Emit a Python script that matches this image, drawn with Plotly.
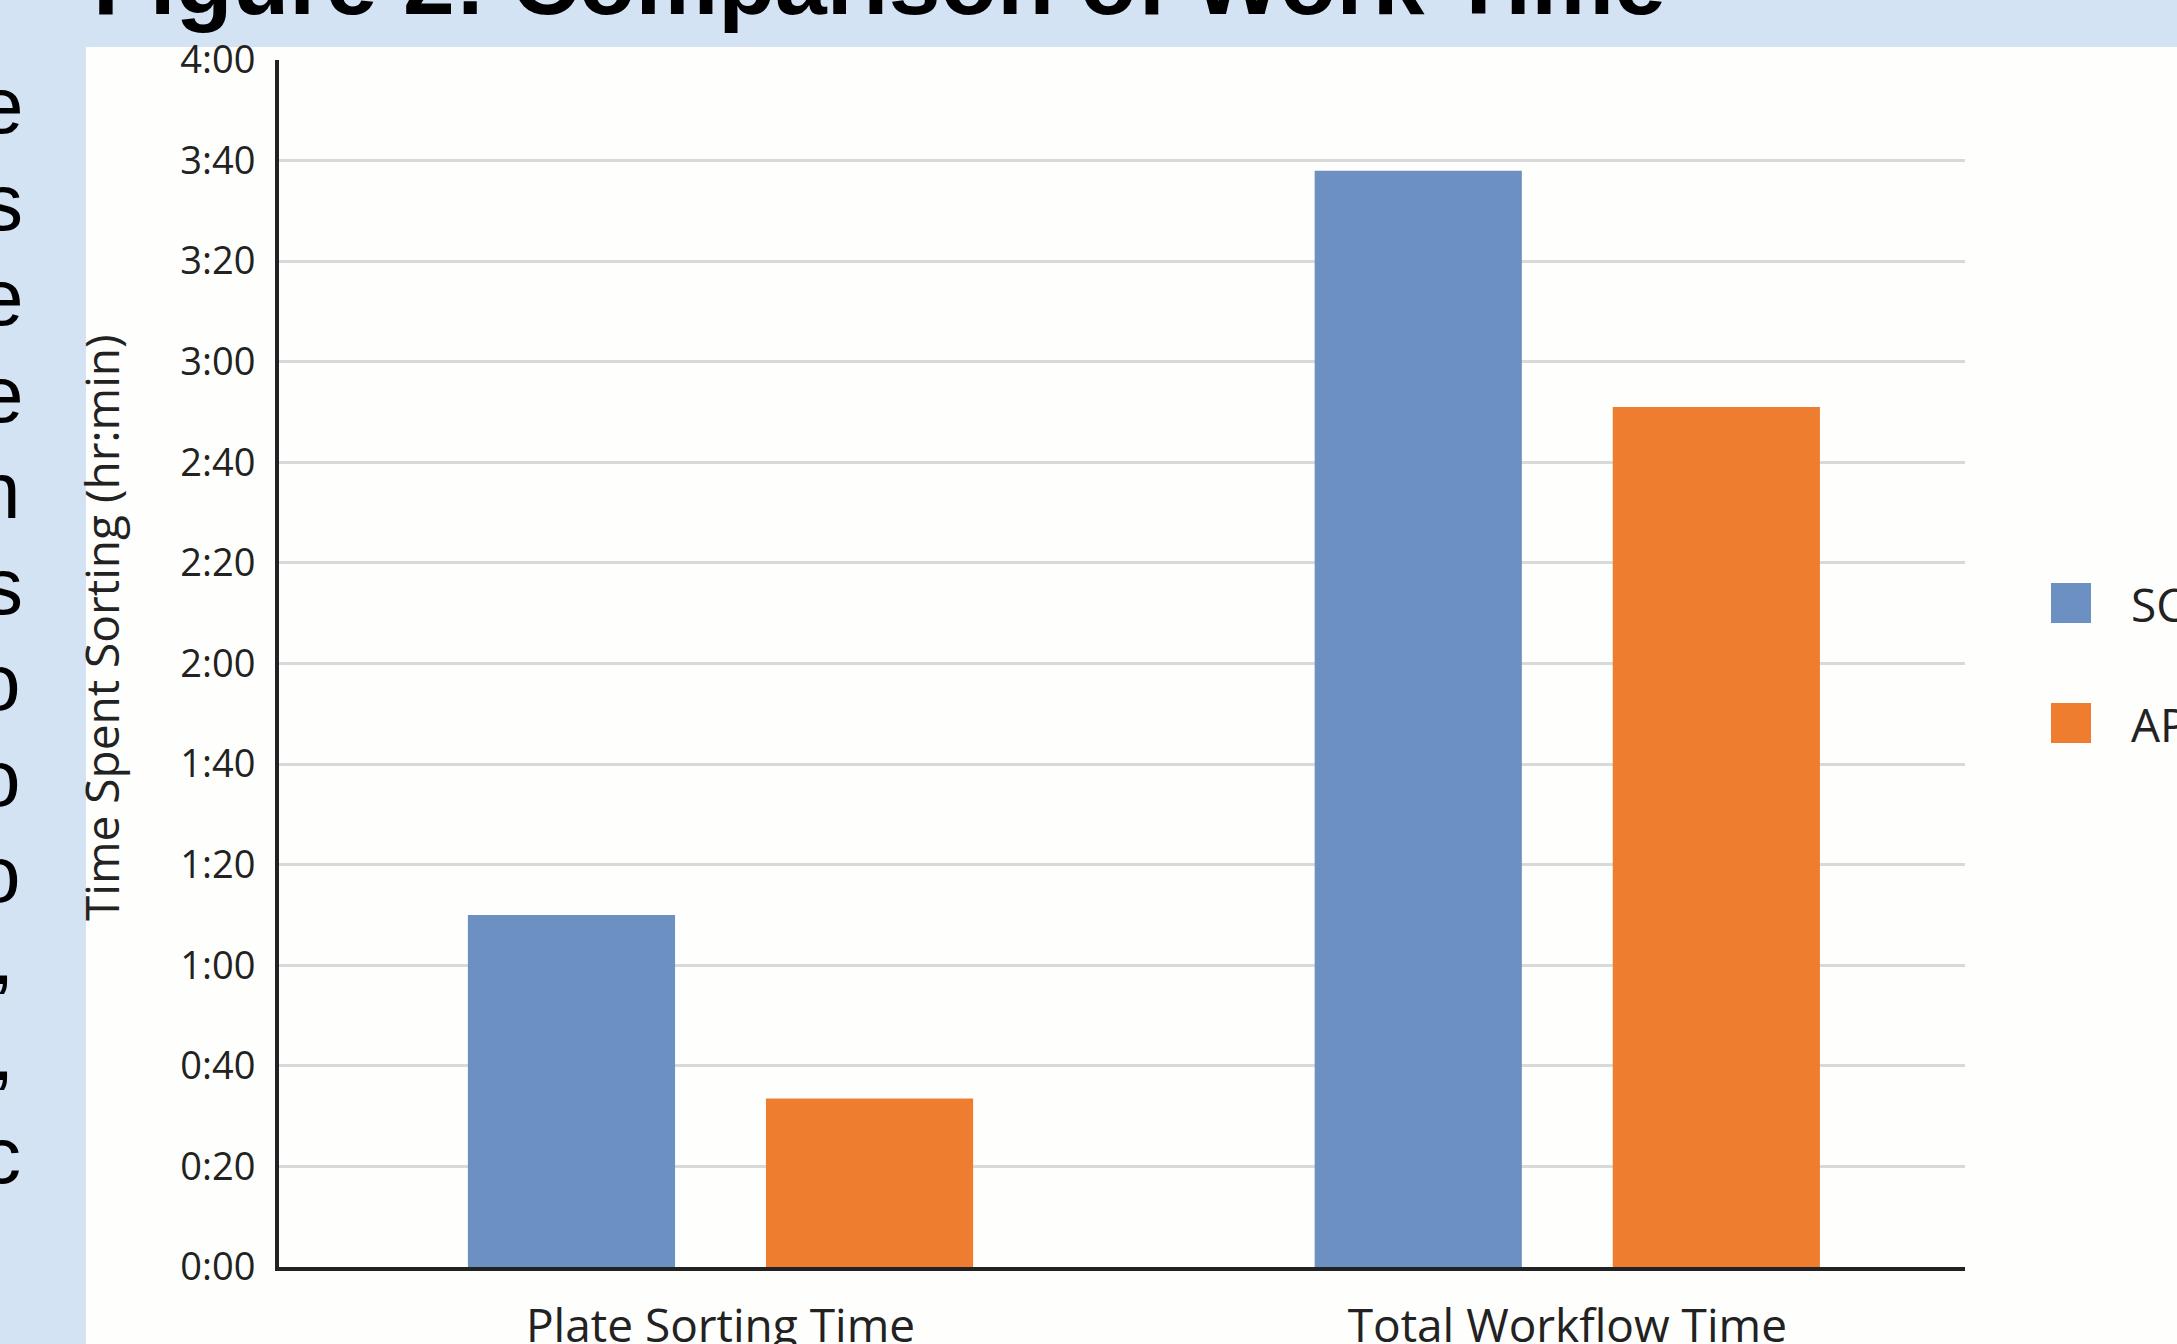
import plotly.graph_objects as go

# ---------------- data ----------------
categories = ["Plate Sorting Time", "Total Workflow Time"]
series_names = ["SC", "AP"]
sc_minutes = [70, 218]
ap_minutes = [33.5, 171]
tick_minutes = [0, 20, 40, 60, 80, 100, 120, 140, 160, 180, 200, 220, 240]
tick_labels = ["0:00", "0:20", "0:40", "1:00", "1:20", "1:40", "2:00",
               "2:20", "2:40", "3:00", "3:20", "3:40", "4:00"]
title_text = "Figure 2: Comparison of Work Time"
y_title = "Time Spent Sorting (hr:min)"
side_fragments = ["e", "s", "e", "e", "n", "s", "o", "o", "o", ",", ",", "c"]

# ---------------- styling / layout ----------------
W, H = 2177, 1344
L, R, T, B = 279, 1965, 60, 1267
pw, ph = R - L, B - T
BLUE = "#6C90C1"
ORANGE = "#EE7D30"
POSTER_BG = "#D3E3F3"
PANEL = "#FEFEFC"
INK = "#222222"
FONT = "Open Sans"


def px(x):
    return (x - L) / pw


def py(y):
    return (B - y) / ph


cat_center0, cat_unit = 720.5, 846.8

fig = go.Figure()
fig.add_trace(go.Bar(x=categories, y=sc_minutes, name=series_names[0],
                     marker=dict(color=BLUE, line=dict(width=0)), showlegend=False))
fig.add_trace(go.Bar(x=categories, y=ap_minutes, name=series_names[1],
                     marker=dict(color=ORANGE, line=dict(width=0)), showlegend=False))

shapes = [
    # white chart panel on the poster
    dict(type="rect", xref="paper", yref="paper", layer="below",
         x0=px(86), x1=px(2300), y0=py(1500), y1=py(47),
         fillcolor=PANEL, line=dict(width=0)),
]
annotations = []

# legend (drawn manually so the swatches can be large)
legend_rows = [603, 723]
for name, color, yc in zip(series_names, [BLUE, ORANGE], legend_rows):
    shapes.append(dict(type="rect", xref="paper", yref="paper",
                       x0=px(2051), x1=px(2091), y0=py(yc + 20), y1=py(yc - 20),
                       fillcolor=color, line=dict(width=0)))
    annotations.append(dict(text=name, xref="paper", yref="paper",
                            x=px(2129), y=py(yc + 1), xanchor="left", yanchor="middle",
                            showarrow=False, font=dict(family=FONT, size=46, color=INK)))

# y-axis title
annotations.append(dict(text=y_title, xref="paper", yref="paper",
                        x=px(101), y=py(628), xanchor="center", yanchor="middle",
                        textangle=-90, showarrow=False,
                        font=dict(family=FONT, size=46, color=INK)))

# poster title (cut off at top)
annotations.append(dict(text="<b>" + title_text + "</b>", xref="paper", yref="paper",
                        x=px(91), y=py(-18), xanchor="left", yanchor="middle",
                        showarrow=False,
                        font=dict(family="Liberation Sans", size=93, color="#000000")))

# fragments of neighbouring poster column text (cut off by the crop)
frag_right = [26, 25, 26, 26, 23, 25, 23, 23, 23, 16, 16, 23]
frag_y = [106, 202, 298, 394, 490, 586, 682, 778, 874, 957, 1052, 1155]
for ch, xr, yc in zip(side_fragments, frag_right, frag_y):
    annotations.append(dict(text=ch, xref="paper", yref="paper",
                            x=px(xr), y=py(yc), xanchor="right", yanchor="middle",
                            showarrow=False,
                            font=dict(family="Liberation Sans", size=80, color="#000000")))

fig.update_layout(
    width=W, height=H,
    margin=dict(l=L, r=W - R, t=T, b=H - B, pad=0, autoexpand=False),
    paper_bgcolor=POSTER_BG,
    plot_bgcolor="rgba(0,0,0,0)",
    barmode="group",
    bargap=0.296,
    bargroupgap=0.305,
    showlegend=False,
    shapes=shapes,
    annotations=annotations,
    xaxis=dict(
        range=[(L - cat_center0) / cat_unit, (R - cat_center0) / cat_unit],
        showline=True, linecolor=INK, linewidth=4,
        showgrid=False, zeroline=False, ticks="",
        tickfont=dict(family=FONT, size=46, color=INK),
        ticklabelstandoff=16, automargin=False,
    ),
    yaxis=dict(
        range=[0, 240],
        tickvals=tick_minutes, ticktext=tick_labels,
        showgrid=True, gridcolor="#D9D9D9", gridwidth=3,
        showline=True, linecolor=INK, linewidth=4,
        zeroline=False, ticks="",
        tickfont=dict(family=FONT, size=38, color=INK),
        ticklabelstandoff=12, automargin=False,
    ),
)

fig.write_html("out.html")
